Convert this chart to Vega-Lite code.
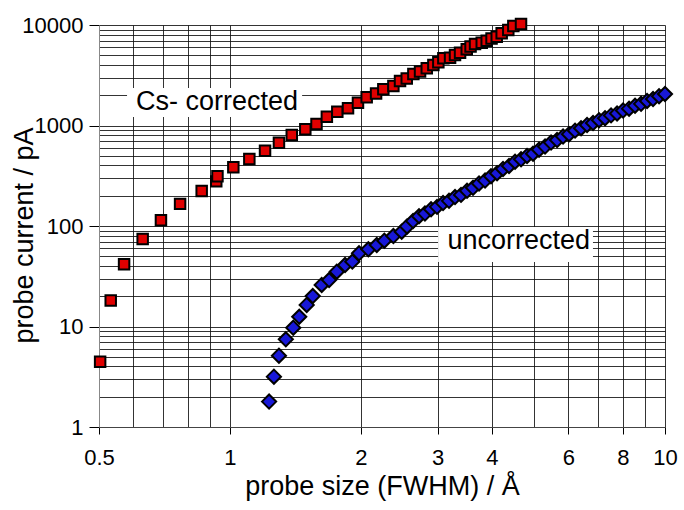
{
  "$schema": "https://vega.github.io/schema/vega-lite/v6.json",
  "width": 566,
  "height": 402,
  "autosize": "none",
  "padding": {"left": 99, "top": 25, "right": 19, "bottom": 83},
  "background": "white",
  "config": {
    "view": {"stroke": null},
    "axis": {"labelFont": "Liberation Sans", "titleFont": "Liberation Sans", "labelColor": "#000", "titleColor": "#000", "titleFontWeight": "normal"}
  },
  "datasets": {
    "red": [
      {"x": 0.503, "y": 4.46}, {"x": 0.532, "y": 18.1}, {"x": 0.571, "y": 41.6}, {"x": 0.630, "y": 74.3},
      {"x": 0.694, "y": 114}, {"x": 0.768, "y": 166}, {"x": 0.861, "y": 223}, {"x": 0.930, "y": 278},
      {"x": 0.936, "y": 312}, {"x": 1.018, "y": 384}, {"x": 1.108, "y": 464}, {"x": 1.204, "y": 561},
      {"x": 1.296, "y": 674}, {"x": 1.387, "y": 804}, {"x": 1.490, "y": 917}, {"x": 1.581, "y": 1035},
      {"x": 1.670, "y": 1224}, {"x": 1.765, "y": 1372}, {"x": 1.868, "y": 1483}, {"x": 1.969, "y": 1687},
      {"x": 2.062, "y": 1909}, {"x": 2.167, "y": 2081}, {"x": 2.252, "y": 2291}, {"x": 2.375, "y": 2472},
      {"x": 2.460, "y": 2773}, {"x": 2.549, "y": 2937}, {"x": 2.640, "y": 3254}, {"x": 2.735, "y": 3445},
      {"x": 2.834, "y": 3708}, {"x": 2.935, "y": 3999}, {"x": 3.013, "y": 4255}, {"x": 3.094, "y": 4665},
      {"x": 3.206, "y": 4730}, {"x": 3.291, "y": 5027}, {"x": 3.380, "y": 5300}, {"x": 3.502, "y": 5730},
      {"x": 3.573, "y": 6111}, {"x": 3.659, "y": 6472}, {"x": 3.791, "y": 6668}, {"x": 3.892, "y": 6985},
      {"x": 3.993, "y": 7341}, {"x": 4.104, "y": 7653}, {"x": 4.213, "y": 8264}, {"x": 4.363, "y": 8917},
      {"x": 4.481, "y": 9772}, {"x": 4.667, "y": 10233}
    ],
    "blue": [
      {"x": 1.230, "y": 1.79}, {"x": 1.262, "y": 3.17}, {"x": 1.296, "y": 5.12}, {"x": 1.344, "y": 7.46},
      {"x": 1.398, "y": 9.73}, {"x": 1.443, "y": 12.5}, {"x": 1.501, "y": 16.4}, {"x": 1.550, "y": 20.1},
      {"x": 1.625, "y": 25.9}, {"x": 1.690, "y": 29.0}, {"x": 1.760, "y": 35.1}, {"x": 1.839, "y": 40.9},
      {"x": 1.911, "y": 44.2}, {"x": 1.980, "y": 53.5}, {"x": 2.080, "y": 58.6}, {"x": 2.175, "y": 64.7},
      {"x": 2.264, "y": 71.4}, {"x": 2.375, "y": 79.5}, {"x": 2.482, "y": 87.8}, {"x": 2.553, "y": 99.1},
      {"x": 2.636, "y": 112}, {"x": 2.720, "y": 125}, {"x": 2.807, "y": 133}, {"x": 2.899, "y": 147},
      {"x": 2.992, "y": 155}, {"x": 3.089, "y": 169}, {"x": 3.188, "y": 178}, {"x": 3.291, "y": 194},
      {"x": 3.397, "y": 204}, {"x": 3.507, "y": 224}, {"x": 3.620, "y": 240}, {"x": 3.737, "y": 265},
      {"x": 3.858, "y": 283}, {"x": 3.982, "y": 313}, {"x": 4.111, "y": 335}, {"x": 4.243, "y": 370},
      {"x": 4.380, "y": 396}, {"x": 4.522, "y": 436}, {"x": 4.668, "y": 461}, {"x": 4.818, "y": 498},
      {"x": 4.974, "y": 524}, {"x": 5.134, "y": 575}, {"x": 5.300, "y": 617}, {"x": 5.471, "y": 677},
      {"x": 5.648, "y": 716}, {"x": 5.830, "y": 776}, {"x": 6.018, "y": 820}, {"x": 6.212, "y": 889},
      {"x": 6.413, "y": 940}, {"x": 6.620, "y": 1012}, {"x": 6.833, "y": 1058}, {"x": 7.054, "y": 1130},
      {"x": 7.281, "y": 1181}, {"x": 7.516, "y": 1261}, {"x": 7.759, "y": 1318}, {"x": 8.009, "y": 1408},
      {"x": 8.268, "y": 1471}, {"x": 8.534, "y": 1572}, {"x": 8.810, "y": 1642}, {"x": 9.094, "y": 1755},
      {"x": 9.387, "y": 1834}, {"x": 9.690, "y": 1958}, {"x": 10.0, "y": 2058}
    ],
    "boxes": [
      {"x": 0.580, "x2": 1.465, "y": 1216, "y2": 2361},
      {"x": 3.009, "x2": 6.83, "y": 43.8, "y2": 97.7}
    ],
    "labels": [
      {"label": "Cs- corrected", "x": 0.934, "y": 1694},
      {"label": "uncorrected", "x": 4.61, "y": 71.7}
    ]
  },
  "layer": [
    {
      "data": {"name": "red"},
      "mark": {"type": "point", "shape": "square", "filled": true, "fill": "#e00000", "stroke": "#000", "strokeWidth": 2, "opacity": 1, "size": 110},
      "encoding": {
        "x": {"field": "x", "type": "quantitative", "scale": {"type": "log", "domain": [0.5, 10], "nice": false},
          "axis": {"orient": "bottom", "values": [0.5, 0.6, 0.7, 0.8, 0.9, 1, 2, 3, 4, 5, 6, 7, 8, 9, 10], "grid": true, "gridColor": "#111", "gridOpacity": 0.85, "gridWidth": 1, "labels": false, "ticks": false, "domain": false, "title": null}},
        "y": {"field": "y", "type": "quantitative", "scale": {"type": "log", "domain": [1, 10000], "nice": false},
          "axis": {"orient": "left", "values": [1,2,3,4,5,6,7,8,9,10,20,30,40,50,60,70,80,90,100,200,300,400,500,600,700,800,900,1000,2000,3000,4000,5000,6000,7000,8000,9000,10000], "grid": true, "gridColor": "#111", "gridOpacity": 0.85, "gridWidth": 1, "labels": false, "ticks": false, "domain": false, "title": null}}
      }
    },
    {
      "data": {"name": "blue"},
      "mark": {"type": "point", "shape": "diamond", "filled": true, "fill": "#1818d8", "stroke": "#000", "strokeWidth": 2, "opacity": 1, "size": 200},
      "encoding": {
        "x": {"field": "x", "type": "quantitative", "scale": {"type": "log", "domain": [0.5, 10], "nice": false}, "axis": null},
        "y": {"field": "y", "type": "quantitative", "scale": {"type": "log", "domain": [1, 10000], "nice": false}, "axis": null}
      }
    },
    {
      "data": {"name": "boxes"},
      "mark": {"type": "rect", "fill": "white"},
      "encoding": {
        "x": {"field": "x", "type": "quantitative", "scale": {"type": "log", "domain": [0.5, 10], "nice": false},
          "axis": {"orient": "bottom", "values": [0.5, 1, 2, 3, 4, 6, 8, 10], "format": "~g", "grid": false, "labelFontSize": 22, "tickSize": 7, "tickColor": "#000", "labelPadding": 13, "domainColor": "#444", "labelFlush": false, "labelOverlap": false, "title": "probe size (FWHM) / Å", "titleFontSize": 27, "titleBaseline": "bottom", "titleY": 73}},
        "x2": {"field": "x2"},
        "y": {"field": "y", "type": "quantitative", "scale": {"type": "log", "domain": [1, 10000], "nice": false},
          "axis": {"orient": "left", "values": [1, 10, 100, 1000, 10000], "format": "~g", "grid": false, "labelFontSize": 22, "tickSize": 10, "tickColor": "#000", "labelPadding": 6, "domainColor": "#888", "labelFlush": false, "labelOverlap": false, "title": "probe current / pA", "titleFontSize": 27, "titleAngle": 270, "titleBaseline": "bottom", "titleAlign": "center", "titleX": -61, "titleY": 210}},
        "y2": {"field": "y2"}
      }
    },
    {
      "data": {"name": "labels"},
      "mark": {"type": "text", "font": "Liberation Sans", "fontSize": 27, "color": "#000", "align": "center", "baseline": "middle"},
      "encoding": {
        "x": {"field": "x", "type": "quantitative", "scale": {"type": "log", "domain": [0.5, 10], "nice": false}, "axis": null},
        "y": {"field": "y", "type": "quantitative", "scale": {"type": "log", "domain": [1, 10000], "nice": false}, "axis": null},
        "text": {"field": "label"}
      }
    }
  ],
  "resolve": {"axis": {"x": "independent", "y": "independent"}}
}
